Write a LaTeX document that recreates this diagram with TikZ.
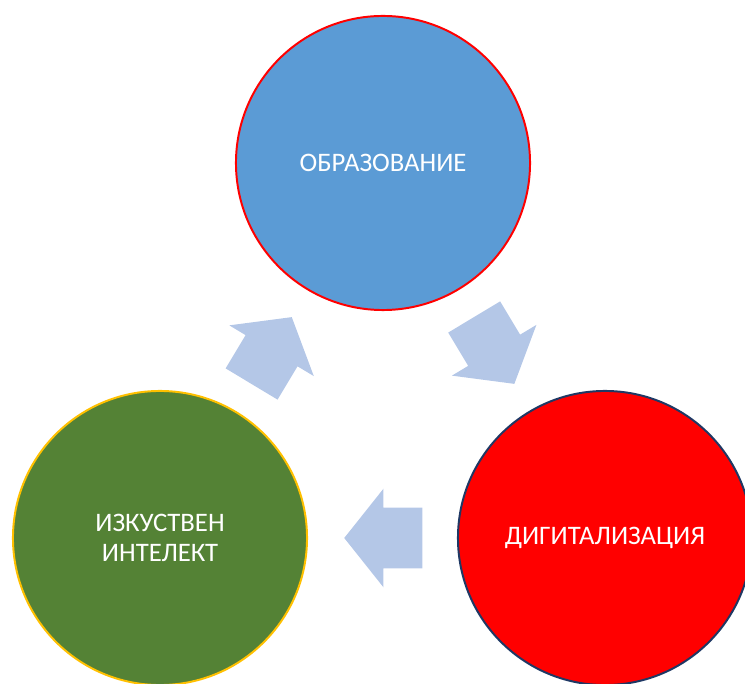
\documentclass[tikz,border=0pt]{standalone}
\usepackage{fontspec}
\setmainfont{Carlito}
\usepackage{tikz}
\usetikzlibrary{positioning}
\usetikzlibrary{calc}
\usetikzlibrary{shapes.arrows}

\definecolor{edublue}{HTML}{5B9BD5}
\definecolor{diggred}{HTML}{FF0000}
\definecolor{aigreen}{HTML}{548235}
\definecolor{aigold}{HTML}{FFC000}
\definecolor{navyline}{HTML}{1F3864}
\definecolor{arrowblue}{HTML}{B4C7E7}

\begin{document}
\begin{tikzpicture}[x=0.025cm,y=0.025cm,
        topic/.style={circle,minimum size=7.35cm,line width=1.4pt,text=white,align=center,
            font=\fontsize{19}{21.3}\selectfont},
        cyclearrow/.style={single arrow,fill=arrowblue,draw=none,minimum height=1.95cm,
            single arrow head extend=0.475cm,single arrow tip angle=103,
            inner xsep=0pt,inner ysep=0.75cm,anchor=tail}]
            \useasboundingbox (0,0) rectangle (745,684);
            \node(edu) [topic,fill=edublue,draw=diggred] at (383,521) {ОБРАЗОВАНИЕ};
            \node(dig) [topic,fill=diggred,draw=navyline] at (605,146) {ДИГИТАЛИЗАЦИЯ};
            \node(ai) [topic,fill=aigreen,draw=aigold] at (160,146) {ИЗКУСТВЕН\\ИНТЕЛЕКТ};

            \node(a1) [cyclearrow,rotate=-59] at ($(edu)!0.41!(dig)$) {};
            \node(a2) [cyclearrow,rotate=180] at ($(dig)!0.41!(ai)$) {};
            \node(a3) [cyclearrow,rotate=59] at ($(ai)!0.41!(edu)$) {};
        \end{tikzpicture}
\end{document}
